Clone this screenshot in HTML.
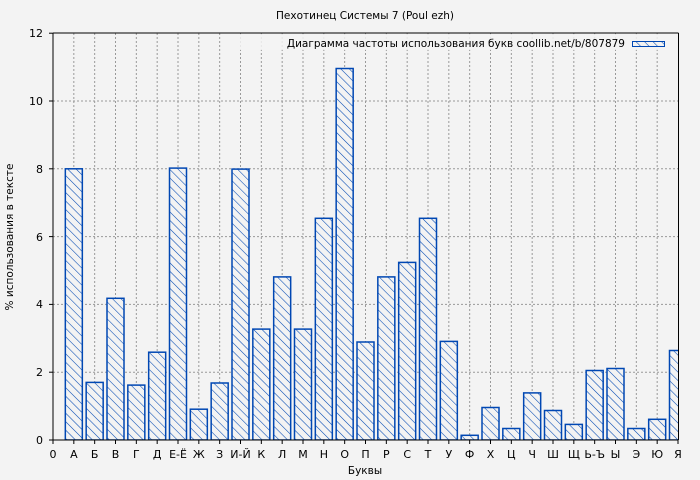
<!DOCTYPE html>
<html><head><meta charset="utf-8">
<style>
html,body{margin:0;padding:0;background:#f3f3f3;}
svg{display:block;font-family:"DejaVu Sans","Liberation Sans",sans-serif;}
</style></head>
<body>
<svg width="700" height="480" viewBox="0 0 700 480" xmlns="http://www.w3.org/2000/svg">
<defs>
<pattern id="h" patternUnits="userSpaceOnUse" width="6" height="6" patternTransform="rotate(-45)">
<rect width="6" height="6" fill="#f3f3f3"/>
<line x1="0" y1="0" x2="0" y2="6" stroke="#0047b3" stroke-width="1.1"/>
</pattern>
<clipPath id="c"><rect x="53" y="33" width="625.5" height="407"/></clipPath>
</defs>
<rect width="700" height="480" fill="#f3f3f3"/>
<text x="365" y="19" font-size="10.5" text-anchor="middle" fill="#000">Пехотинец Системы 7 (Poul ezh)</text>
<g stroke="#999" stroke-width="1" stroke-dasharray="2,2" fill="none">
<line x1="53" y1="372.2" x2="678.5" y2="372.2"/>
<line x1="53" y1="304.4" x2="678.5" y2="304.4"/>
<line x1="53" y1="236.6" x2="678.5" y2="236.6"/>
<line x1="53" y1="168.8" x2="678.5" y2="168.8"/>
<line x1="53" y1="101.0" x2="678.5" y2="101.0"/>
<line x1="73.83" y1="33" x2="73.83" y2="440"/>
<line x1="94.67" y1="33" x2="94.67" y2="440"/>
<line x1="115.5" y1="33" x2="115.5" y2="440"/>
<line x1="136.33" y1="33" x2="136.33" y2="440"/>
<line x1="157.17" y1="33" x2="157.17" y2="440"/>
<line x1="178" y1="33" x2="178" y2="440"/>
<line x1="198.83" y1="33" x2="198.83" y2="440"/>
<line x1="219.67" y1="33" x2="219.67" y2="440"/>
<line x1="240.5" y1="33" x2="240.5" y2="440"/>
<line x1="261.33" y1="33" x2="261.33" y2="440"/>
<line x1="282.17" y1="33" x2="282.17" y2="440"/>
<line x1="303" y1="33" x2="303" y2="440"/>
<line x1="323.83" y1="33" x2="323.83" y2="440"/>
<line x1="344.67" y1="33" x2="344.67" y2="440"/>
<line x1="365.5" y1="33" x2="365.5" y2="440"/>
<line x1="386.33" y1="33" x2="386.33" y2="440"/>
<line x1="407.17" y1="33" x2="407.17" y2="440"/>
<line x1="428" y1="33" x2="428" y2="440"/>
<line x1="448.83" y1="33" x2="448.83" y2="440"/>
<line x1="469.67" y1="33" x2="469.67" y2="440"/>
<line x1="490.5" y1="33" x2="490.5" y2="440"/>
<line x1="511.33" y1="33" x2="511.33" y2="440"/>
<line x1="532.17" y1="33" x2="532.17" y2="440"/>
<line x1="553" y1="33" x2="553" y2="440"/>
<line x1="573.83" y1="33" x2="573.83" y2="440"/>
<line x1="594.67" y1="33" x2="594.67" y2="440"/>
<line x1="615.5" y1="33" x2="615.5" y2="440"/>
<line x1="636.33" y1="33" x2="636.33" y2="440"/>
<line x1="657.17" y1="33" x2="657.17" y2="440"/>
</g>
<rect x="240" y="34" width="438" height="16" fill="#f3f3f3" opacity="0.85"/>
<g clip-path="url(#c)" fill="url(#h)" stroke="#0047b3" stroke-width="1.5">
<rect x="65.33" y="168.8" width="17" height="271.2"/>
<rect x="86.17" y="382.4" width="17" height="57.6"/>
<rect x="107" y="298.3" width="17" height="141.7"/>
<rect x="127.83" y="385.1" width="17" height="54.9"/>
<rect x="148.67" y="352.2" width="17" height="87.8"/>
<rect x="169.5" y="168.1" width="17" height="271.9"/>
<rect x="190.33" y="409.2" width="17" height="30.8"/>
<rect x="211.17" y="383" width="17" height="57"/>
<rect x="232" y="169.1" width="17" height="270.9"/>
<rect x="252.83" y="329.1" width="17" height="110.9"/>
<rect x="273.67" y="276.9" width="17" height="163.1"/>
<rect x="294.5" y="329.1" width="17" height="110.9"/>
<rect x="315.33" y="218.3" width="17" height="221.7"/>
<rect x="336.17" y="68.5" width="17" height="371.5"/>
<rect x="357" y="342" width="17" height="98"/>
<rect x="377.83" y="276.9" width="17" height="163.1"/>
<rect x="398.67" y="262.4" width="17" height="177.6"/>
<rect x="419.5" y="218.3" width="17" height="221.7"/>
<rect x="440.33" y="341.4" width="17" height="98.6"/>
<rect x="461.17" y="435.3" width="17" height="4.7"/>
<rect x="482" y="407.5" width="17" height="32.5"/>
<rect x="502.83" y="428.5" width="17" height="11.5"/>
<rect x="523.67" y="392.9" width="17" height="47.1"/>
<rect x="544.5" y="410.5" width="17" height="29.5"/>
<rect x="565.33" y="424.4" width="17" height="15.6"/>
<rect x="586.17" y="370.5" width="17" height="69.5"/>
<rect x="607" y="368.5" width="17" height="71.5"/>
<rect x="627.83" y="428.5" width="17" height="11.5"/>
<rect x="648.67" y="419.3" width="17" height="20.7"/>
<rect x="669.5" y="350.5" width="17" height="89.5"/>
</g>
<text x="625" y="47" font-size="10.5" text-anchor="end" fill="#000">Диаграмма частоты использования букв coollib.net/b/807879</text>
<rect x="632.5" y="41.5" width="32" height="5" fill="url(#h)" stroke="#0047b3" stroke-width="1"/>
<g stroke="#000" stroke-width="1" fill="none">
<line x1="53" y1="33" x2="678.5" y2="33"/>
<line x1="678.5" y1="33" x2="678.5" y2="440"/>
<line x1="53" y1="33" x2="53" y2="444"/>
<line x1="49" y1="440" x2="678.5" y2="440"/>
<line x1="49" y1="33.2" x2="53" y2="33.2"/>
<line x1="49" y1="101" x2="53" y2="101"/>
<line x1="49" y1="168.8" x2="53" y2="168.8"/>
<line x1="49" y1="236.6" x2="53" y2="236.6"/>
<line x1="49" y1="304.4" x2="53" y2="304.4"/>
<line x1="49" y1="372.2" x2="53" y2="372.2"/>
<line x1="73.83" y1="440" x2="73.83" y2="444"/>
<line x1="94.67" y1="440" x2="94.67" y2="444"/>
<line x1="115.5" y1="440" x2="115.5" y2="444"/>
<line x1="136.33" y1="440" x2="136.33" y2="444"/>
<line x1="157.17" y1="440" x2="157.17" y2="444"/>
<line x1="178" y1="440" x2="178" y2="444"/>
<line x1="198.83" y1="440" x2="198.83" y2="444"/>
<line x1="219.67" y1="440" x2="219.67" y2="444"/>
<line x1="240.5" y1="440" x2="240.5" y2="444"/>
<line x1="261.33" y1="440" x2="261.33" y2="444"/>
<line x1="282.17" y1="440" x2="282.17" y2="444"/>
<line x1="303" y1="440" x2="303" y2="444"/>
<line x1="323.83" y1="440" x2="323.83" y2="444"/>
<line x1="344.67" y1="440" x2="344.67" y2="444"/>
<line x1="365.5" y1="440" x2="365.5" y2="444"/>
<line x1="386.33" y1="440" x2="386.33" y2="444"/>
<line x1="407.17" y1="440" x2="407.17" y2="444"/>
<line x1="428" y1="440" x2="428" y2="444"/>
<line x1="448.83" y1="440" x2="448.83" y2="444"/>
<line x1="469.67" y1="440" x2="469.67" y2="444"/>
<line x1="490.5" y1="440" x2="490.5" y2="444"/>
<line x1="511.33" y1="440" x2="511.33" y2="444"/>
<line x1="532.17" y1="440" x2="532.17" y2="444"/>
<line x1="553" y1="440" x2="553" y2="444"/>
<line x1="573.83" y1="440" x2="573.83" y2="444"/>
<line x1="594.67" y1="440" x2="594.67" y2="444"/>
<line x1="615.5" y1="440" x2="615.5" y2="444"/>
<line x1="636.33" y1="440" x2="636.33" y2="444"/>
<line x1="657.17" y1="440" x2="657.17" y2="444"/>
<line x1="678" y1="440" x2="678" y2="444"/>
</g>
<g font-size="11" fill="#000" text-anchor="end">
<text x="43" y="37">12</text>
<text x="43" y="105">10</text>
<text x="43" y="173">8</text>
<text x="43" y="241">6</text>
<text x="43" y="308">4</text>
<text x="43" y="376">2</text>
<text x="43" y="444">0</text>
</g>
<g font-size="11" fill="#000" text-anchor="middle">
<text x="53" y="458">0</text>
<text x="73.83" y="458">А</text>
<text x="94.67" y="458">Б</text>
<text x="115.5" y="458">В</text>
<text x="136.33" y="458">Г</text>
<text x="157.17" y="458">Д</text>
<text x="178" y="458">Е-Ё</text>
<text x="198.83" y="458">Ж</text>
<text x="219.67" y="458">З</text>
<text x="240.5" y="458">И-Й</text>
<text x="261.33" y="458">К</text>
<text x="282.17" y="458">Л</text>
<text x="303" y="458">М</text>
<text x="323.83" y="458">Н</text>
<text x="344.67" y="458">О</text>
<text x="365.5" y="458">П</text>
<text x="386.33" y="458">Р</text>
<text x="407.17" y="458">С</text>
<text x="428" y="458">Т</text>
<text x="448.83" y="458">У</text>
<text x="469.67" y="458">Ф</text>
<text x="490.5" y="458">Х</text>
<text x="511.33" y="458">Ц</text>
<text x="532.17" y="458">Ч</text>
<text x="553" y="458">Ш</text>
<text x="573.83" y="458">Щ</text>
<text x="594.67" y="458">Ь-Ъ</text>
<text x="615.5" y="458">Ы</text>
<text x="636.33" y="458">Э</text>
<text x="657.17" y="458">Ю</text>
<text x="678" y="458">Я</text>
<text x="365" y="474" font-size="10.5">Буквы</text>
<text x="0" y="0" font-size="10.5" transform="translate(13,237) rotate(-90)">% использования в тексте</text>
</g>
</svg>
</body></html>
